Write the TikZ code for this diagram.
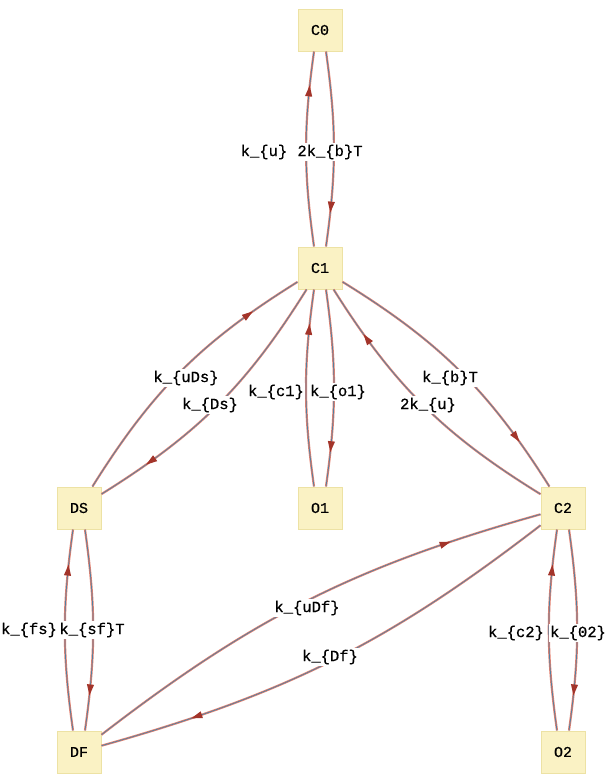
\documentclass[tikz,border=0pt]{standalone}
\usepackage{fontspec}
\setmonofont{Liberation Mono}
\newfontfamily\lblfont[FakeBold=0.6]{Liberation Mono}
\usetikzlibrary{decorations.markings}
\definecolor{boxfill}{HTML}{FAF2C4}
\definecolor{boxline}{HTML}{EDE2A4}
\definecolor{edgered}{HTML}{E3806F}
\definecolor{edgeblue}{HTML}{4F80A2}
\definecolor{arrowred}{HTML}{A3342A}
\tikzset{
  state/.style={draw=boxline, fill=boxfill, line width=1pt, minimum width=44pt, minimum height=42pt, inner sep=0pt, font=\lblfont\fontsize{15}{15}\selectfont},
  lbl/.style={fill=white, inner sep=1.5pt, font=\lblfont\fontsize{15.5}{16}\selectfont},
  link/.style={draw=edgered, line width=0.75pt, double=edgeblue, double distance=0.7pt,
    postaction={decorate},
    decoration={markings, mark=at position 0.8 with {\fill[arrowred] (-6pt,-3.6pt) -- (5pt,0pt) -- (-6pt,3.6pt) -- cycle;}}},
}
\begin{document}
\begin{tikzpicture}[x=1pt,y=1pt]
\useasboundingbox (0,0) rectangle (605,-774);
% states
\node[state] (C0) at (320,-30) {C0};
\node[state] (C1) at (320,-268) {C1};
\node[state] (DS) at (79,-508) {DS};
\node[state] (O1) at (320,-508) {O1};
\node[state] (C2) at (563,-508) {C2};
\node[state] (DF) at (79,-752) {DF};
\node[state] (O2) at (563,-752) {O2};
% vertical pairs
\draw[link] ([xshift=-6pt]C1.north) to[bend left=8] ([xshift=-6pt]C0.south);
\draw[link] ([xshift=6pt]C0.south) to[bend left=8] ([xshift=6pt]C1.north);
\draw[link] ([xshift=-6pt]O1.north) to[bend left=8] ([xshift=-6pt]C1.south);
\draw[link] ([xshift=6pt]C1.south) to[bend left=8] ([xshift=6pt]O1.north);
\draw[link] ([xshift=-6pt]DF.north) to[bend left=8] ([xshift=-6pt]DS.south);
\draw[link] ([xshift=6pt]DS.south) to[bend left=8] ([xshift=6pt]DF.north);
\draw[link] ([xshift=-6pt]O2.north) to[bend left=8] ([xshift=-6pt]C2.south);
\draw[link] ([xshift=6pt]C2.south) to[bend left=8] ([xshift=6pt]O2.north);
% diagonal pairs
\draw[link] (DS) to[bend left=13] (C1);
\draw[link] (C1) to[bend left=13] (DS);
\draw[link] (C2) to[bend left=13] (C1);
\draw[link] (C1) to[bend left=13] (C2);
\draw[link] (DF) to[bend left=11] (C2);
\draw[link] (C2) to[bend left=11] (DF);
% labels
\node[lbl] (l1) at (264,-152) {k\_\{u\}};
\node[lbl] (l2) at (330,-152) {2k\_\{b\}T};
\node[lbl] (l3) at (186,-378) {k\_\{uDs\}};
\node[lbl] (l4) at (210,-405) {k\_\{Ds\}};
\node[lbl] (l5) at (276,-392) {k\_\{c1\}};
\node[lbl] (l6) at (338,-392) {k\_\{o1\}};
\node[lbl] (l7) at (450,-378) {k\_\{b\}T};
\node[lbl] (l8) at (428,-405) {2k\_\{u\}};
\node[lbl] (l9) at (29,-630) {k\_\{fs\}};
\node[lbl] (l10) at (92,-630) {k\_\{sf\}T};
\node[lbl] (l11) at (307,-608) {k\_\{uDf\}};
\node[lbl] (l12) at (330,-657) {k\_\{Df\}};
\node[lbl] (l13) at (516,-633) {k\_\{c2\}};
\node[lbl] (l14) at (578,-633) {k\_\{02\}};
\end{tikzpicture}
\end{document}
